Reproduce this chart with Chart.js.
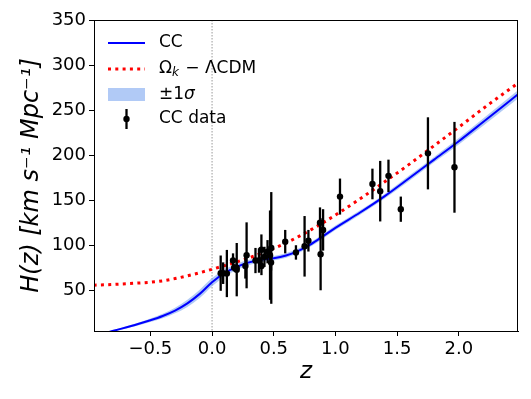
<!DOCTYPE html>
<html>
<head>
<meta charset="utf-8">
<script src="https://cdn.jsdelivr.net/npm/chart.js@4.4.1/dist/chart.umd.min.js"></script>
<style>
  html, body { margin: 0; padding: 0; background: #fff; }
</style>
</head>
<body>
<canvas id="chart" width="531" height="399"></canvas>
<script>
// redshift grid of the reconstructed curves
const zGrid  = [-0.96, -0.8, -0.6, -0.5, -0.4, -0.3, -0.2, -0.1, 0.0, 0.1, 0.2, 0.3, 0.4, 0.5, 0.6, 0.7, 0.8, 0.9, 1.0, 1.2, 1.4, 1.6, 1.8, 2.0, 2.2, 2.48];
const hcMean = [-1, 5, 12.5, 16.7, 21.5, 27.5, 35.5, 46, 59, 69, 76, 81, 84, 85.5, 88.6, 93.8, 101, 110, 119.3, 136.3, 154.5, 174.6, 195, 215.4, 237, 267.5];
const hcLow  = [-1.5, 4, 11, 14.7, 19, 24.5, 31.5, 41.5, 54.5, 65, 72.5, 78, 81.5, 83, 86.1, 91.3, 98.5, 107.5, 116.8, 133.8, 152, 171.6, 192, 211.9, 233, 263];
const hcHigh = [-0.5, 6, 14, 18.7, 24, 30.5, 39.5, 50.5, 63.5, 73, 79.5, 84, 86.5, 88, 91.1, 96.3, 103.5, 112.5, 121.8, 138.8, 157, 177.6, 198, 218.9, 241, 272];
const lcdm   = [55.6, 56.5, 58, 58.9, 60.5, 63, 66, 69.5, 73.3, 77.3, 81.5, 86, 91, 96.5, 102.5, 109.5, 117, 125, 133.5, 151.5, 170.5, 190, 210.5, 231, 252, 280];

// cosmic chronometer points
const ccZ   = [0.07, 0.09, 0.12, 0.17, 0.179, 0.199, 0.2, 0.27, 0.28, 0.352, 0.3802, 0.4, 0.4004, 0.4247, 0.4497, 0.47, 0.4783, 0.48, 0.593, 0.68, 0.75, 0.781, 0.875, 0.88, 0.9, 1.037, 1.3, 1.363, 1.43, 1.53, 1.75, 1.965];
const ccH   = [69, 69, 68.6, 83, 75, 75, 72.9, 77, 88.8, 83, 83, 95, 77, 87.1, 92.8, 89, 80.9, 97, 104, 92, 98.8, 105, 125, 90, 117, 154, 168, 160, 177, 140, 202, 186.5];
const ccErr = [19.6, 12, 26.2, 8, 4, 5, 29.6, 14, 36.6, 14, 13.5, 17, 10.2, 11.2, 12.9, 49.6, 9, 62, 13, 8, 33.6, 12, 17, 40, 23, 20, 17, 33.6, 18, 14, 40, 50.4];

const xTicks = [-0.5, 0.0, 0.5, 1.0, 1.5, 2.0];
const yTicks = [50, 100, 150, 200, 250, 300, 350];

Chart.defaults.font.family = "'DejaVu Sans', sans-serif";
Chart.defaults.color = '#000';

function pts(ys) {
    return zGrid.map(function(z, i) { return { x: z, y: ys[i] }; });
}

// vertical dotted line at z = 0, error bars, frame and legend
const extras = {
    id: 'extras',
    beforeDatasetsDraw(chart) {
        const ctx = chart.ctx, a = chart.chartArea;
        const x0 = chart.scales.x.getPixelForValue(0);
        ctx.save();
        ctx.strokeStyle = '#999';
        ctx.lineWidth = 1;
        ctx.setLineDash([1.5, 1.5]);
        ctx.beginPath();
        ctx.moveTo(x0, a.top);
        ctx.lineTo(x0, a.bottom);
        ctx.stroke();
        ctx.restore();
    },
    beforeDatasetDraw(chart, args) {
        if (args.index !== 0) return;
        const ctx = chart.ctx, xs = chart.scales.x, ys = chart.scales.y;
        ctx.save();
        ctx.strokeStyle = '#000';
        ctx.lineWidth = 2.3;
        ccZ.forEach(function(z, i) {
            const px = xs.getPixelForValue(z);
            ctx.beginPath();
            ctx.moveTo(px, ys.getPixelForValue(ccH[i] - ccErr[i]));
            ctx.lineTo(px, ys.getPixelForValue(ccH[i] + ccErr[i]));
            ctx.stroke();
        });
        ctx.restore();
    },
    afterDraw(chart) {
        const ctx = chart.ctx, a = chart.chartArea;
        ctx.save();
        ctx.strokeStyle = '#000';
        ctx.lineWidth = 1;
        ctx.strokeRect(a.left + 0.5, a.top + 0.5, a.right - a.left - 1, a.bottom - a.top);

        const lx = a.left + 14, lw = 37, tx = a.left + 65;
        const rows = [a.top + 23, a.top + 49, a.top + 74.5, a.top + 99];
        const fs = 17;
        ctx.textBaseline = 'middle';
        ctx.fillStyle = '#000';

        // CC line
        ctx.strokeStyle = '#0000ff';
        ctx.lineWidth = 2;
        ctx.beginPath(); ctx.moveTo(lx, rows[0]); ctx.lineTo(lx + lw, rows[0]); ctx.stroke();
        ctx.font = fs + "px 'DejaVu Sans'";
        ctx.fillText('CC', tx, rows[0]);

        // dotted model line
        ctx.strokeStyle = '#ff0000';
        ctx.lineWidth = 3;
        ctx.setLineDash([3, 4.3]);
        ctx.beginPath(); ctx.moveTo(lx, rows[1]); ctx.lineTo(lx + lw, rows[1]); ctx.stroke();
        ctx.setLineDash([]);
        let x = tx;
        ctx.fillText('Ω', x, rows[1]); x += ctx.measureText('Ω').width;
        ctx.font = "italic 12px 'DejaVu Sans'";
        ctx.fillText('k', x, rows[1] + 4); x += ctx.measureText('k').width + 1;
        ctx.font = fs + "px 'DejaVu Sans'";
        ctx.fillText(' − ΛCDM', x, rows[1]);

        // band patch
        ctx.fillStyle = 'rgba(100,149,237,0.5)';
        ctx.fillRect(lx, rows[2] - 6.5, lw, 13);
        ctx.fillStyle = '#000';
        x = tx;
        ctx.fillText('±1', x, rows[2]); x += ctx.measureText('±1').width;
        ctx.font = "italic " + fs + "px 'DejaVu Sans'";
        ctx.fillText('σ', x, rows[2]);

        // error bar symbol
        ctx.strokeStyle = '#000';
        ctx.lineWidth = 2.3;
        const cx = lx + lw / 2;
        ctx.beginPath(); ctx.moveTo(cx, rows[3] - 10); ctx.lineTo(cx, rows[3] + 10); ctx.stroke();
        ctx.beginPath(); ctx.arc(cx, rows[3], 3.2, 0, Math.PI * 2); ctx.fill();
        ctx.font = fs + "px 'DejaVu Sans'";
        ctx.fillText('CC data', tx, rows[3]);
        ctx.restore();
    }
};

function fmtTick(v) {
    return (v < 0 ? '−' : '') + Math.abs(v).toFixed(1);
}

const ctx = document.getElementById('chart');
new Chart(ctx, {
    type: 'line',
    data: {
        datasets: [
            { label: 'CC data', type: 'scatter', data: ccZ.map(function(z, i) { return { x: z, y: ccH[i] }; }),
                backgroundColor: '#000', borderColor: '#000', pointRadius: 3.2, pointBorderWidth: 0, showLine: false },
            { label: 'CC', data: pts(hcMean), borderColor: '#0000ff', borderWidth: 2,
                pointRadius: 0, cubicInterpolationMode: 'monotone', fill: false },
            { label: 'model', data: pts(lcdm), borderColor: '#ff0000', borderWidth: 3, borderDash: [3, 4.3],
                pointRadius: 0, cubicInterpolationMode: 'monotone', fill: false },
            { label: 'upper', data: pts(hcHigh), borderWidth: 0, borderColor: 'rgba(0,0,0,0)',
                backgroundColor: 'rgba(100,149,237,0.5)', pointRadius: 0, cubicInterpolationMode: 'monotone', fill: '+1' },
            { label: 'lower', data: pts(hcLow), borderWidth: 0, borderColor: 'rgba(0,0,0,0)',
                pointRadius: 0, cubicInterpolationMode: 'monotone', fill: false }
        ]
    },
    options: {
        responsive: false,
        animation: false,
        layout: { padding: { left: 0, right: 13, top: 20, bottom: 0 } },
        plugins: { legend: { display: false }, tooltip: { enabled: false } },
        scales: {
            x: {
                type: 'linear', min: -0.957, max: 2.48,
                afterBuildTicks: function(s) { s.ticks = xTicks.map(function(v) { return { value: v }; }); },
                afterFit: function(s) { s.height = 68; },
                grid: { drawOnChartArea: false, drawTicks: true, tickLength: 5, color: '#000' },
                border: { display: true, color: '#000', width: 1 },
                ticks: { font: { size: 18 }, padding: 3, maxRotation: 0, callback: fmtTick },
                title: { display: true, text: 'z', font: { size: 23, style: 'italic' }, padding: { top: 0, bottom: 13 } }
            },
            y: {
                type: 'linear', min: 4.8, max: 350,
                afterBuildTicks: function(s) { s.ticks = yTicks.map(function(v) { return { value: v }; }); },
                afterFit: function(s) { s.width = 94; },
                grid: { drawOnChartArea: false, drawTicks: true, tickLength: 5, color: '#000' },
                border: { display: true, color: '#000', width: 1 },
                ticks: { font: { size: 18 }, padding: 3, callback: function(v) { return String(v); } },
                title: { display: true, text: 'H(z) [km s⁻¹ Mpc⁻¹]', font: { size: 24, style: 'italic' }, padding: { top: 17, bottom: 0 } }
            }
        }
    },
    plugins: [extras]
});
</script>
</body>
</html>
